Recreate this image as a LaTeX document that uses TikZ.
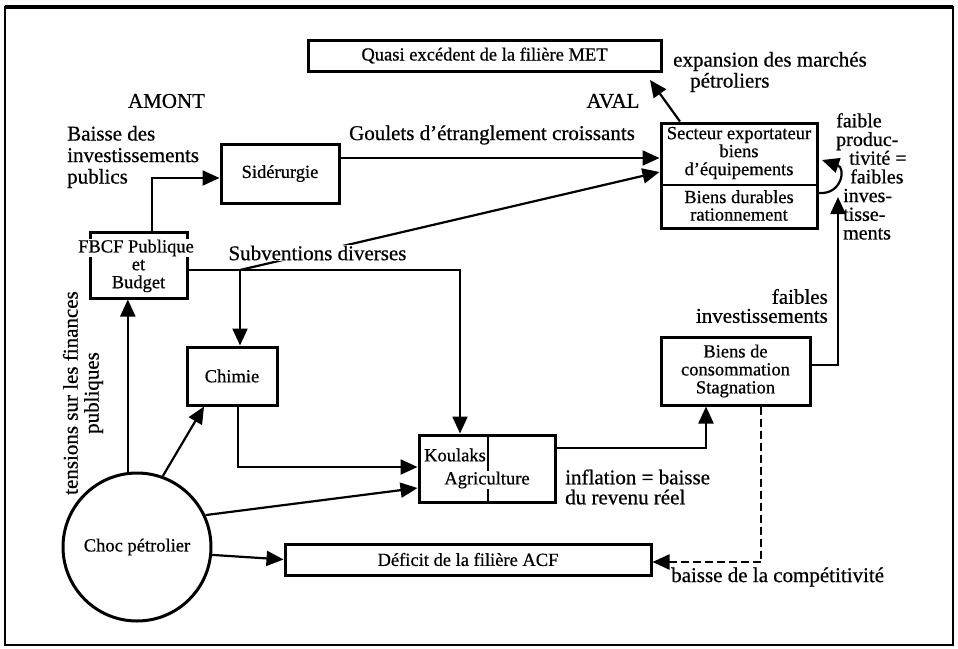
\documentclass[tikz,border=0pt]{standalone}
\usepackage{fontspec}
\setmainfont{Liberation Serif}[FakeBold=0.6]
\usetikzlibrary{arrows.meta,calc}

\begin{document}
\begin{tikzpicture}[x=1pt,y=-1pt,
  box/.style={draw, line width=3pt, inner sep=0pt, font=\fontsize{18.5}{18}\selectfont, align=center},
  boxtext/.style={font=\fontsize{18.5}{18}\selectfont, align=center, inner sep=0pt},
  lbl/.style={font=\fontsize{21}{21}\selectfont, inner sep=0pt},
  arr/.style={line width=2.2pt, -{Triangle[length=17pt,width=15pt]}},
]
\useasboundingbox (0,0) rectangle (958,648);

% outer frame
\draw[line width=2pt] (5,7) rectangle (953,645);
\draw[line width=3.2pt] (5,7) -- (953,7);

% boxes
\node[box, minimum width=353pt, minimum height=31pt] (quasi) at (484.5,55.5) {Quasi excédent de la filière MET};
\node[box, minimum width=118pt, minimum height=59pt] (sider) at (280,173.5) {Sidérurgie};
\node[box, minimum width=97pt, minimum height=66pt] (fbcf) at (138.5,265) {};
\node[box, minimum width=156pt, minimum height=105pt] (secteur) at (739,175.5) {};
\draw[line width=1.8pt] (secteur.west |- 0,185) -- (secteur.east |- 0,185);
\node[boxtext] (secA) at (739,153) {Secteur exportateur\\biens\\d'équipements};
\node[boxtext, font=\fontsize{18.5}{17.5}\selectfont] (secB) at (739,205.5) {Biens durables\\rationnement};
\node[box, minimum width=90pt, minimum height=58pt] (chimie) at (232,376) {Chimie};
\node[box, minimum width=136pt, minimum height=67pt] (koulaks) at (487,468.5) {};
\draw[line width=1.8pt] (488,435) -- (488,502);
\node[box, minimum width=149pt, minimum height=68pt] (biens) at (735.5,371) {Biens de\\consommation\\Stagnation};
\node[box, minimum width=366pt, minimum height=31pt] (deficit) at (468,559.5) {Déficit de la filière ACF};
\node[circle, draw, line width=3pt, minimum size=148pt, inner sep=0pt, boxtext] (choc) at (137,547) {Choc pétrolier};

% labels
\node[lbl] (amont) at (166.5,101) {AMONT};
\node[lbl] (aval) at (613,101) {AVAL};
\node[lbl, align=left, anchor=west] (expan) at (673,72) {expansion des marchés\\\hspace*{17pt}pétroliers};
\node[lbl, align=left, anchor=west, font=\fontsize{21}{21.5}\selectfont] (baisse) at (67,157) {Baisse des\\investissements\\publics};
\node[lbl] (goulets) at (492,135) {Goulets d’étranglement croissants};
\node[lbl, rotate=90, align=center] (tensions) at (83,393) {tensions sur les finances\\publiques};
\node[lbl, align=left, anchor=west, font=\fontsize{21}{20}\selectfont] (inflation) at (565,487) {inflation = baisse\\du revenu réel};
\node[lbl, align=right, anchor=east, font=\fontsize{21}{19}\selectfont] (finv) at (828,306) {faibles\\investissements};
\node[lbl, anchor=west] (compet) at (671,577) {baisse de la compétitivité};
\node[inner sep=0pt, align=left, anchor=north west, font=\fontsize{20}{18.7}\selectfont] (prod) at (836,113)
  {faible\\produc-\\\hspace*{13pt}tivité =\\\hspace*{14pt}faibles\\\hspace*{7pt}inves-\\\hspace*{7pt}tisse-\\\hspace*{7pt}ments};

% free ends
\coordinate (expTip) at (650,80);
\coordinate (invTip) at (838,197);
\coordinate (sj) at (240,270);

% connectors
\draw[arr] ([xshift=-59pt]secteur.north) -- (expTip);
\draw[arr] ([xshift=13.5pt]fbcf.north) |- ([yshift=-4.5pt]sider.west);
\draw[arr] ([yshift=15.5pt]sider.east) -- ([yshift=15.5pt]sider.east -| secteur.west);
\draw[arr] ([yshift=-5pt]fbcf.east) -| ([xshift=-27pt]koulaks.north);
\draw[arr] (sj) -- (sj |- chimie.north);
\draw[arr] (sj) -- ([yshift=3.5pt]secteur.west);
\draw[arr] ([xshift=6pt]chimie.south) |- ([yshift=1.5pt]koulaks.west);
\draw[arr] (choc.97.8) -- (choc.97.8 |- fbcf.south);
\draw[arr] (choc.70) -- ([xshift=-28pt]chimie.south);
\draw[arr] (choc.25) -- ([yshift=-19.5pt]koulaks.west);
\draw[arr] (choc.-6) -- (deficit.west);
\draw[arr] ([yshift=20.5pt]koulaks.east) -| ([xshift=-29.5pt]biens.south);
\draw[arr, dash pattern=on 8pt off 4pt] ([xshift=25.5pt]biens.south) |- ([yshift=-2.5pt]deficit.east);
\draw[arr] ([yshift=6pt]biens.east) -| (invTip);
\draw[arr] ([yshift=-17.5pt]secteur.east) .. controls (842,195) and (846,168) .. (822,160);

% texts laid over lines
\node[lbl, fill=white, inner sep=1pt] (subv) at (317.5,253) {Subventions diverses};
\node[boxtext, fill=white, inner sep=1pt] (fbcfA) at (136,248) {FBCF Publique};
\node[boxtext] (fbcfB) at (138.5,276) {et\\Budget};
\node[boxtext] (koulA) at (455,455) {Koulaks};
\node[boxtext, fill=white, inner sep=1pt] (koulB) at (487,480) {Agriculture};
\end{tikzpicture}
\end{document}
